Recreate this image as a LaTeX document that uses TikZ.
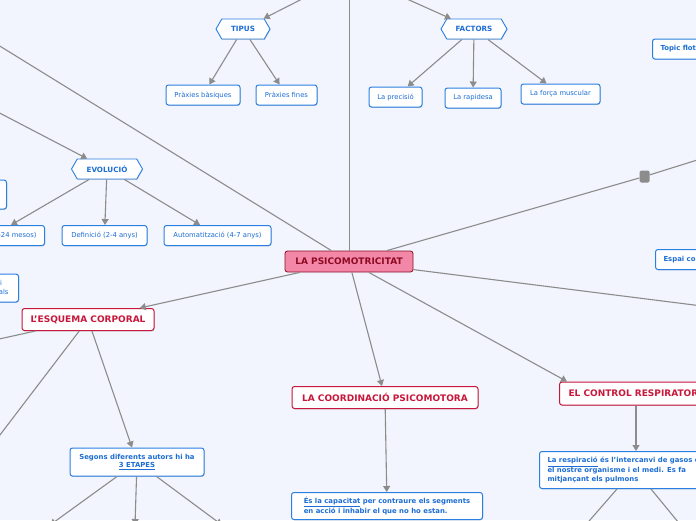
\documentclass[tikz,border=0pt]{standalone}
\usepackage{fontspec}
\setmainfont{DejaVu Sans}
\usetikzlibrary{arrows.meta,shapes.symbols,shadows}
\definecolor{paper}{HTML}{F2F5FE}
\definecolor{wire}{HTML}{8C8C8C}
\definecolor{topicblue}{HTML}{2A80E2}
\definecolor{inkblue}{HTML}{1C6DD4}
\definecolor{mainred}{HTML}{C8173A}
\definecolor{rootfill}{HTML}{F287A8}
\definecolor{rootink}{HTML}{8E0B22}

\begin{document}
\begin{tikzpicture}[x=1pt,y=-1pt,
  font=\fontsize{6.8}{8.5}\selectfont, >={Triangle[length=6pt,width=7pt]},
  link/.style={draw=wire,line width=1.1pt},
  soft/.style={drop shadow={shadow xshift=0.5pt,shadow yshift=-0.9pt,opacity=0.18,fill=black}},
  root/.style={rounded corners=2.5pt, draw=rootink, fill=rootfill, text=rootink,
    font=\fontsize{9}{11}\selectfont\bfseries, minimum width=128pt, minimum height=21pt, line width=0.8pt},
  main/.style={rounded corners=2.5pt, draw=mainred, fill=white, text=mainred, soft,
    font=\fontsize{9}{11}\selectfont\bfseries, minimum height=22pt, line width=1pt},
  hexa/.style={signal, signal to=east and west, signal pointer angle=120, draw=topicblue,
    fill=white, text=inkblue, font=\fontsize{7.2}{9}\selectfont\bfseries, minimum height=20pt,
    inner xsep=2pt, line width=0.9pt, soft},
  leaf/.style={rounded corners=2.5pt, draw=topicblue, fill=white, text=inkblue,
    minimum height=20pt, line width=1pt, soft},
  note/.style={leaf, font=\fontsize{6.9}{8.5}\selectfont\bfseries},
]
% ===== canvas =====
\useasboundingbox (0,0) rectangle (696,520);
\fill[paper] (0,0) rectangle (696,520);

% ===== centre =====
\node[root] (root) at (349,261.5) {LA PSICOMOTRICITAT};

% ===== top branches =====
\node[hexa,minimum width=54pt] (tipus) at (243,29) {TIPUS};
\node[leaf,minimum width=74pt] (praxb) at (203,95) {Pràxies bàsiques};
\node[leaf,minimum width=61pt] (praxf) at (286.5,95) {Pràxies fines};

\node[hexa,minimum width=66pt] (factors) at (474,29) {FACTORS};
\node[leaf,minimum width=53pt] (prec) at (395.5,97) {La precisió};
\node[leaf,minimum width=56pt] (rapid) at (473,98) {La rapidesa};
\node[leaf,minimum width=79pt] (forca) at (560.5,94) {La força muscular};

\node[note,anchor=west,inner xsep=8pt] (flot) at (652,49) {Topic flotant};

% ===== left branches =====
\node[leaf,anchor=east,minimum width=40pt,minimum height=29pt] (blank) at (7,194.5) {};
\node[hexa,minimum width=71pt] (evol) at (107,169) {EVOLUCIÓ};
\node[leaf,anchor=east,inner xsep=8pt] (mesos) at (45,235.5) {(0-24 mesos)};
\node[leaf,minimum width=85pt] (defin) at (104.5,235.5) {Definició (2-4 anys)};
\node[leaf,minimum width=107pt] (autom) at (217.5,235.5) {Automatització (4-7 anys)};
\node[leaf,anchor=east,align=right,minimum height=28pt,inner xsep=10pt] (lateral) at (19,288)
  {lateralitat i\kern6.5pt\\nocions espacials};

% ===== main topics =====
\node[main,minimum width=132pt] (esquema) at (88,319.5) {L'ESQUEMA CORPORAL};
\node[main,minimum width=186pt] (coord) at (385,397.5) {LA COORDINACIÓ PSICOMOTORA};
\node[main,anchor=west,minimum height=23pt,inner xsep=9pt] (ctrl) at (559,393.5) {EL CONTROL RESPIRATORI};
\node[note,anchor=west,inner xsep=8pt] (espai) at (655,259.5) {Espai col·laboratiu};

% ===== explanations =====
\node[note,align=center,minimum width=134pt,minimum height=28pt] (segons) at (137,462)
  {Segons diferents autors hi ha\\\underline{3 ETAPES}};
\node[note,anchor=north west,align=left,minimum width=191pt,minimum height=27pt,inner xsep=8pt] (capac) at (291,492)
  {\underline{És la capacitat} per contraure els segments\\en acció i inhabir el que no ho estan.};
\node[note,anchor=north west,align=left,minimum height=37pt,inner xsep=8pt] (resp) at (539,451)
  {\underline{La respiració} és l'intercanvi de gasos entre\\el nostre organisme i el medi. Es fa\\mitjançant els pulmons};

% ===== loose ends off the sheet =====
\coordinate (offT) at (349.5,-10);
\coordinate (offTL) at (-10,40);
\coordinate (offR1) at (710,156);
\coordinate (offR2) at (710,307);
\coordinate (offTip) at (310,-5);
\coordinate (offFac) at (398,-5);
\coordinate (offEvo) at (-10,108);
\coordinate (offL1) at (-10,341);
\coordinate (offL2) at (-10,448);
\coordinate (offS1) at (50,525);
\coordinate (offS2) at (135,525);
\coordinate (offS3) at (222,525);
\coordinate (offR3) at (583,528);
\coordinate (offR4) at (683,528);
\node[fill=wire,rounded corners=1.5pt,minimum width=10pt,minimum height=12pt,inner sep=0pt] (knob) at (644.5,176.5) {};

% ===== connectors =====
\draw[link] ([xshift=0.5pt]root.north) -- (offT);
\draw[link] (root) -- (offTL);
\draw[link] (root) -- (knob) -- (offR1);
\draw[link] (root) -- (offR2);
\draw[link,->] (root) -- (esquema);
\draw[link,->] (root) -- (coord);
\draw[link,->] (root) -- ([xshift=8pt]ctrl.north west);

\draw[link,->] (offTip) -- (tipus);
\draw[link,->] (tipus) -- (praxb);
\draw[link,->] (tipus) -- (praxf);
\draw[link,->] (offFac) -- (factors);
\draw[link,->] (factors) -- (prec);
\draw[link,->] (factors) -- (rapid);
\draw[link,->] (factors) -- (forca);

\draw[link,->] (offEvo) -- (evol);
\draw[link,->] (evol) -- ([xshift=-34pt]mesos.north east);
\draw[link,->] (evol) -- (defin);
\draw[link,->] (evol) -- (autom);

\draw[link,->] (esquema) -- (offL1);
\draw[link,->] (esquema) -- (offL2);
\draw[link,->] (esquema) -- (segons);
\foreach \e in {offS1,offS2,offS3}
  \draw[link,->] (segons) -- (\e);

\draw[link,->] (coord) -- (capac);
\draw[link,->] ([xshift=77pt]ctrl.south west) -- ([xshift=97pt]resp.north west);
\draw[link,->] ([xshift=78pt]resp.south west) -- (offR3);
\draw[link,->] ([xshift=112pt]resp.south west) -- (offR4);
\end{tikzpicture}
\end{document}
